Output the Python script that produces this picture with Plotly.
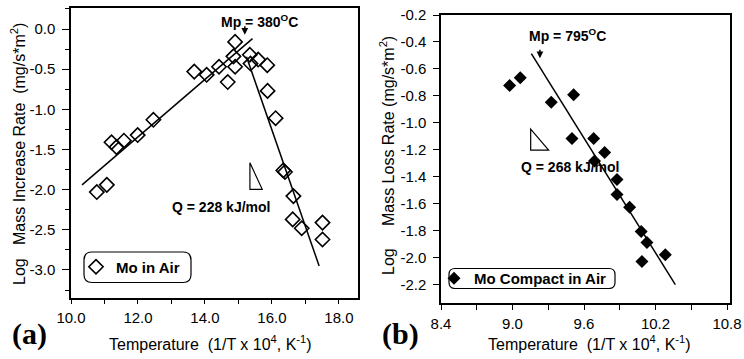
import plotly.graph_objects as go

W, H = 744, 359

# ---------------- Panel (a): Mo in Air ----------------
a_x = [11.21, 11.36, 11.58, 11.99, 12.46, 13.68, 14.05, 14.42, 14.68, 14.85,
       14.90, 14.90, 15.34, 15.36, 15.59, 15.86, 15.87, 16.11, 16.34, 16.39,
       10.77, 11.07, 16.64, 16.62, 16.89, 17.51, 17.51]
a_y = [-1.41, -1.47, -1.39, -1.32, -1.13, -0.53, -0.57, -0.47, -0.66, -0.34,
       -0.16, -0.47, -0.32, -0.43, -0.38, -0.45, -0.77, -1.11, -1.76, -1.78,
       -2.03, -1.94, -2.08, -2.37, -2.48, -2.41, -2.62]
a_fit1_x = [10.33, 15.42]
a_fit1_y = [-1.94, -0.12]
a_fit2_x = [15.24, 17.41]
a_fit2_y = [-0.345, -2.95]
a_xticks = [10, 12, 14, 16, 18]
a_xticktext = ["10.0", "12.0", "14.0", "16.0", "18.0"]
a_yticks = [0.0, -0.5, -1.0, -1.5, -2.0, -2.5, -3.0]
a_yticktext = ["0.0", "-0.5", "-1.0", "-1.5", "-2.0", "-2.5", "-3.0"]
a_name = "Mo in Air"
a_mp_label = "Mp = 380<sup>O</sup>C"
a_q_label = "Q = 228 kJ/mol"

# ---------------- Panel (b): Mo Compact in Air ----------------
b_x = [8.976, 9.065, 9.325, 9.513, 9.499, 9.681, 9.773, 9.688, 9.877, 9.877,
       9.983, 10.08, 10.128, 10.282, 10.086]
b_y = [-0.722, -0.665, -0.847, -0.792, -1.116, -1.116, -1.22, -1.282, -1.419,
       -1.531, -1.625, -1.804, -1.887, -1.978, -2.028]
b_fit_x = [9.158, 10.366]
b_fit_y = [-0.486, -2.198]
b_xticks = [8.4, 9.0, 9.6, 10.2, 10.8]
b_xticktext = ["8.4", "9.0", "9.6", "10.2", "10.8"]
b_yticks = [-0.2, -0.4, -0.6, -0.8, -1.0, -1.2, -1.4, -1.6, -1.8, -2.0, -2.2]
b_yticktext = ["-0.2", "-0.4", "-0.6", "-0.8", "-1.0", "-1.2", "-1.4", "-1.6",
               "-1.8", "-2.0", "-2.2"]
b_name = "Mo Compact in Air"
b_mp_label = "Mp = 795<sup>O</sup>C"
b_q_label = "Q = 268 kJ/mol"

SANS = "Liberation Sans, Arial, sans-serif"
SERIF = "Liberation Serif, Times New Roman, serif"

def px_x(p):
    return p / W

def px_y(p):
    return 1 - p / H

fig = go.Figure()

fig.add_trace(go.Scatter(x=a_fit1_x, y=a_fit1_y, mode="lines", showlegend=False,
                         line=dict(color="black", width=1.5), xaxis="x", yaxis="y"))
fig.add_trace(go.Scatter(x=a_fit2_x, y=a_fit2_y, mode="lines", showlegend=False,
                         line=dict(color="black", width=1.5), xaxis="x", yaxis="y"))
fig.add_trace(go.Scatter(x=a_x, y=a_y, mode="markers", name="<b>" + a_name + "</b>",
                         marker=dict(symbol="diamond-open", size=11, color="black",
                                     line=dict(width=1.6, color="black")),
                         xaxis="x", yaxis="y", legend="legend"))

fig.add_trace(go.Scatter(x=b_fit_x, y=b_fit_y, mode="lines", showlegend=False,
                         line=dict(color="black", width=1.5), xaxis="x2", yaxis="y2"))
fig.add_trace(go.Scatter(x=b_x, y=b_y, mode="markers", name="<b>" + b_name + "</b>",
                         marker=dict(symbol="diamond", size=10, color="black"),
                         xaxis="x2", yaxis="y2", legend="legend2"))

axis_common = dict(showline=True, linecolor="black", linewidth=1.5, mirror=True,
                   showgrid=False, zeroline=False, ticks="outside", tickcolor="black",
                   tickwidth=1.3, automargin=False,
                   tickfont=dict(family=SANS, size=15, color="black"))

fig.update_layout(
    template="none",
    width=W, height=H, margin=dict(l=0, r=0, t=0, b=0, autoexpand=False),
    paper_bgcolor="white", plot_bgcolor="white",
    xaxis=dict(domain=[px_x(71), px_x(358)], range=[10, 18.57], anchor="y",
               tickmode="array", tickvals=a_xticks, ticktext=a_xticktext, ticklen=5,
               ticklabelstandoff=1,
               minor=dict(tick0=10, dtick=1, ticks="outside", ticklen=5, tickwidth=1.3,
                          tickcolor="black"),
               **axis_common),
    yaxis=dict(domain=[px_y(297.7), px_y(8)], range=[-3.345, 0.262], anchor="x",
               tickmode="array", tickvals=a_yticks, ticktext=a_yticktext, ticklen=7,
               ticklabelstandoff=4,
               minor=dict(tick0=0, dtick=0.25, ticks="outside", ticklen=4, tickwidth=1.3,
                          tickcolor="black"),
               **axis_common),
    xaxis2=dict(domain=[px_x(441), px_x(730)], range=[8.4, 10.825], anchor="y2",
                tickmode="array", tickvals=b_xticks, ticktext=b_xticktext, ticklen=5,
                ticklabelstandoff=1,
                minor=dict(tick0=8.4, dtick=0.3, ticks="outside", ticklen=5, tickwidth=1.3,
                           tickcolor="black"),
                **axis_common),
    yaxis2=dict(domain=[px_y(303.3), px_y(15)], range=[-2.337, -0.2], anchor="x2",
                tickmode="array", tickvals=b_yticks, ticktext=b_yticktext, ticklen=6,
                ticklabelstandoff=4,
                **axis_common),
    legend=dict(x=px_x(76), y=px_y(267), xanchor="left", yanchor="middle",
                bgcolor="rgba(0,0,0,0)", borderwidth=0,
                font=dict(family=SANS, size=15, color="black")),
    legend2=dict(x=px_x(434), y=px_y(278.5), xanchor="left", yanchor="middle",
                 bgcolor="rgba(0,0,0,0)", borderwidth=0,
                 font=dict(family=SANS, size=15, color="black")),
)

def rounded_rect(x0, y0, x1, y1, r):
    X = lambda p: px_x(p)
    Y = lambda p: px_y(p)
    return (f"M {X(x0 + r)},{Y(y0)} L {X(x1 - r)},{Y(y0)} Q {X(x1)},{Y(y0)} {X(x1)},{Y(y0 + r)} "
            f"L {X(x1)},{Y(y1 - r)} Q {X(x1)},{Y(y1)} {X(x1 - r)},{Y(y1)} "
            f"L {X(x0 + r)},{Y(y1)} Q {X(x0)},{Y(y1)} {X(x0)},{Y(y1 - r)} "
            f"L {X(x0)},{Y(y0 + r)} Q {X(x0)},{Y(y0)} {X(x0 + r)},{Y(y0)} Z")

shapes = [
    dict(type="path", xref="paper", yref="paper", path=rounded_rect(84, 252, 191, 282.5, 8),
         line=dict(color="black", width=1.2), layer="below"),
    dict(type="path", xref="paper", yref="paper", path=rounded_rect(449, 268.5, 615, 288.5, 6),
         line=dict(color="black", width=1.2), layer="below"),
    # slope triangles
    dict(type="path", xref="x", yref="y",
         path="M 15.343,-1.665 L 15.343,-1.996 L 15.71,-1.996 Z",
         line=dict(color="black", width=1.2)),
    dict(type="path", xref="x2", yref="y2",
         path="M 9.1525,-1.0455 L 9.1525,-1.202 L 9.303,-1.202 Z",
         line=dict(color="black", width=1.2)),
]
fig.update_layout(shapes=shapes)

bold = dict(family=SANS, size=14, color="black")
C = dict(xanchor="center", yanchor="middle", showarrow=False)
annotations = [
    dict(x=15.64, y=0.10, xref="x", yref="y", text="<b>" + a_mp_label + "</b>",
         font=bold, **C),
    dict(x=15.19, y=-0.07, xref="x", yref="y", text="", showarrow=True,
         ax=0, ay=-10, arrowhead=2, arrowsize=0.9, arrowwidth=1.5, arrowcolor="black"),
    dict(x=14.48, y=-2.217, xref="x", yref="y", text="<b>" + a_q_label + "</b>",
         font=bold, **C),
    dict(x=9.465, y=-0.349, xref="x2", yref="y2", text="<b>" + b_mp_label + "</b>",
         font=bold, **C),
    dict(x=9.23, y=-0.52, xref="x2", yref="y2", text="", showarrow=True,
         ax=0, ay=-10, arrowhead=2, arrowsize=0.9, arrowwidth=1.5, arrowcolor="black"),
    dict(x=9.482, y=-1.327, xref="x2", yref="y2", text="<b>" + b_q_label + "</b>",
         font=bold, **C),
    # axis titles
    dict(x=px_x(18), y=px_y(154), xref="paper", yref="paper", textangle=-90,
         text="Log\u00a0\u00a0\u00a0Mass Increase Rate\u00a0\u00a0(mg/s*m<sup>2</sup>)",
         font=dict(family=SANS, size=16, color="black"), **C),
    dict(x=px_x(387), y=px_y(156), xref="paper", yref="paper", textangle=-90,
         text="Log\u00a0\u00a0\u00a0\u00a0\u00a0Mass Loss Rate (mg/s*m<sup>2</sup>)",
         font=dict(family=SANS, size=16, color="black"), **C),
    dict(x=px_x(210), y=px_y(343), xref="paper", yref="paper",
         text="Temperature\u00a0\u00a0(1/T x 10<sup>4</sup>, K<sup>-1</sup>)",
         font=dict(family=SANS, size=16, color="black"), **C),
    dict(x=px_x(589), y=px_y(343), xref="paper", yref="paper",
         text="Temperature\u00a0\u00a0(1/T x 10<sup>4</sup>, K<sup>-1</sup>)",
         font=dict(family=SANS, size=16, color="black"), **C),
    # panel labels
    dict(x=px_x(29), y=px_y(334), xref="paper", yref="paper", text="<b>(a)</b>",
         font=dict(family=SERIF, size=30, color="black"), **C),
    dict(x=px_x(400), y=px_y(334), xref="paper", yref="paper", text="<b>(b)</b>",
         font=dict(family=SERIF, size=30, color="black"), **C),
]
fig.update_layout(annotations=annotations)

fig.write_html("out.html")
